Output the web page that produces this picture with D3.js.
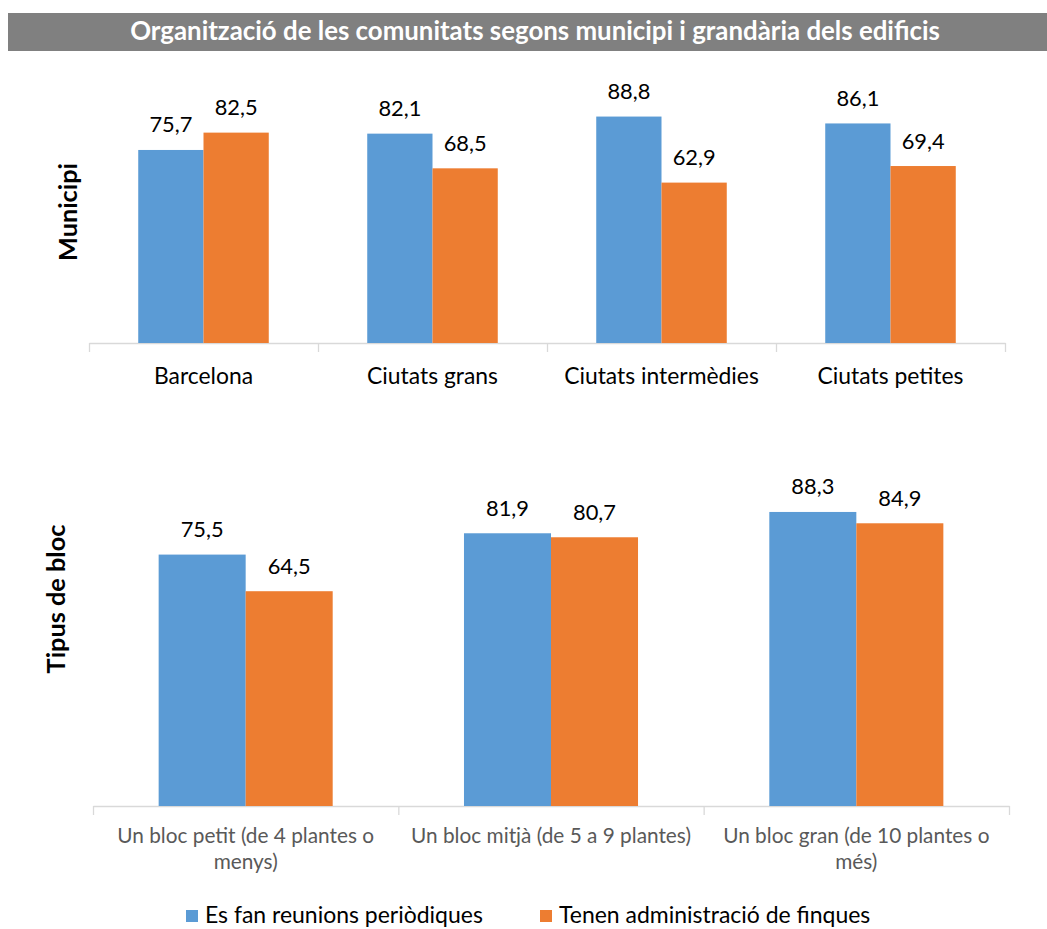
<!DOCTYPE html>
<html>
<head>
<meta charset="utf-8">
<script src="https://cdn.jsdelivr.net/npm/d3@7"></script>
<style>
  body { margin: 0; background: #fff; }
  svg { display: block; font-family: Lato, "Open Sans", sans-serif; }
</style>
</head>
<body>
<svg id="chart" width="1047" height="929"></svg>
<script>
const title = "Organització de les comunitats segons municipi i grandària dels edificis";
const seriesNames = ["Es fan reunions periòdiques", "Tenen administració de finques"];
const colors = ["#5B9BD5", "#ED7D31"];

const municipiCategories = ["Barcelona", "Ciutats grans", "Ciutats intermèdies", "Ciutats petites"];
const municipiReunions = [75.7, 82.1, 88.8, 86.1];
const municipiAdministracio = [82.5, 68.5, 62.9, 69.4];

const blocCategories = [
  ["Un bloc petit (de 4 plantes o", "menys)"],
  ["Un bloc mitjà (de 5 a 9 plantes)"],
  ["Un bloc gran (de 10 plantes o", "més)"]
];
const blocReunions = [75.5, 81.9, 88.3];
const blocAdministracio = [64.5, 80.7, 84.9];

const fmt = v => d3.format(".1f")(v).replace(".", ",");

const svg = d3.select("#chart");

// font size so that a sample string reaches a target width
function fitSize(sample, target, weight) {
  const tmp = svg.append("text").attr("font-size", 20).attr("font-weight", weight || "normal").text(sample);
  const w = tmp.node().getComputedTextLength();
  tmp.remove();
  return 20 * target / w;
}
const titleSize = fitSize(title, 810, "bold");
const dataSize = fitSize("82,5", 43);
const topLabelSize = fitSize("Ciutats petites", 146);
const botLabelSize = fitSize("Un bloc petit (de 4 plantes o", 257);
const legendSize = fitSize("Es fan reunions periòdiques", 278);
const yTitleSize1 = fitSize("Municipi", 96, "bold");
const yTitleSize2 = fitSize("Tipus de bloc", 152, "bold");
const yTitleSize = (yTitleSize1 + yTitleSize2) / 2;

// Title bar
svg.append("rect").attr("x", 8).attr("y", 13).attr("width", 1039).attr("height", 38).attr("fill", "#808080");
svg.append("text").attr("x", 535).attr("y", 40).attr("text-anchor", "middle")
  .attr("fill", "#fff").attr("font-weight", "bold").attr("font-size", titleSize).text(title);

function panel(opts) {
  const { cats, a, b, x0, x1, yBase, yTop, labelColor, labelSize, yTitle, yTitleX, yTitleY } = opts;
  const idx = cats.map((_, i) => i);
  const x = d3.scaleBand().domain(idx).range([x0, x1]).paddingInner(0.43).paddingOuter(0.215);
  const xs = d3.scaleBand().domain([0, 1]).range([0, x.bandwidth()]);
  const y = d3.scaleLinear().domain([0, 100]).range([yBase, yTop]);
  const g = svg.append("g");

  const axisScale = d3.scaleLinear().domain([0, cats.length]).range([x0, x1]);
  const axis = d3.axisBottom(axisScale).tickValues(d3.range(cats.length + 1))
    .tickSize(9).tickSizeOuter(0).tickFormat("");
  const ag = g.append("g").attr("transform", `translate(0,${yBase})`).call(axis);
  ag.selectAll("path,line").attr("stroke", "#D9D9D9").attr("stroke-width", 1.3);

  const data = idx.map(i => [a[i], b[i]]);
  idx.forEach(i => {
    [0, 1].forEach(s => {
      const v = data[i][s];
      const bx = x(i) + xs(s);
      g.append("rect").attr("x", bx).attr("y", y(v)).attr("width", xs.bandwidth())
        .attr("height", y(0) - y(v)).attr("fill", colors[s]);
      g.append("text").attr("x", bx + xs.bandwidth() / 2).attr("y", y(v) - 17.5)
        .attr("text-anchor", "middle").attr("font-size", dataSize).attr("fill", "#000").text(fmt(v));
    });
    const lines = Array.isArray(cats[i]) ? cats[i] : [cats[i]];
    const cx = x(i) + x.bandwidth() / 2;
    lines.forEach((ln, k) => {
      g.append("text").attr("x", cx).attr("y", opts.labelY + k * 25.5)
        .attr("text-anchor", "middle").attr("font-size", labelSize).attr("fill", labelColor).text(ln);
    });
  });

  svg.append("text").attr("transform", `translate(${yTitleX},${yTitleY}) rotate(-90)`)
    .attr("text-anchor", "middle").attr("font-weight", "bold").attr("font-size", yTitleSize).attr("fill", "#000").text(yTitle);
}

panel({ cats: municipiCategories, a: municipiReunions, b: municipiAdministracio,
  x0: 89, x1: 1005, yBase: 343, yTop: 88, labelY: 384, labelColor: "#000", labelSize: topLabelSize,
  yTitle: "Municipi", yTitleX: 77, yTitleY: 212 });

panel({ cats: blocCategories, a: blocReunions, b: blocAdministracio,
  x0: 93, x1: 1009, yBase: 806, yTop: 473, labelY: 843, labelColor: "#595959", labelSize: botLabelSize,
  yTitle: "Tipus de bloc", yTitleX: 65, yTitleY: 599 });

// Legend
const legend = svg.append("g");
const legendX = [186, 540];
seriesNames.forEach((n, i) => {
  legend.append("rect").attr("x", legendX[i]).attr("y", 910).attr("width", 12).attr("height", 12).attr("fill", colors[i]);
  legend.append("text").attr("x", legendX[i] + 19).attr("y", 923).attr("font-size", legendSize).attr("fill", "#000").text(n);
});
</script>
</body>
</html>
